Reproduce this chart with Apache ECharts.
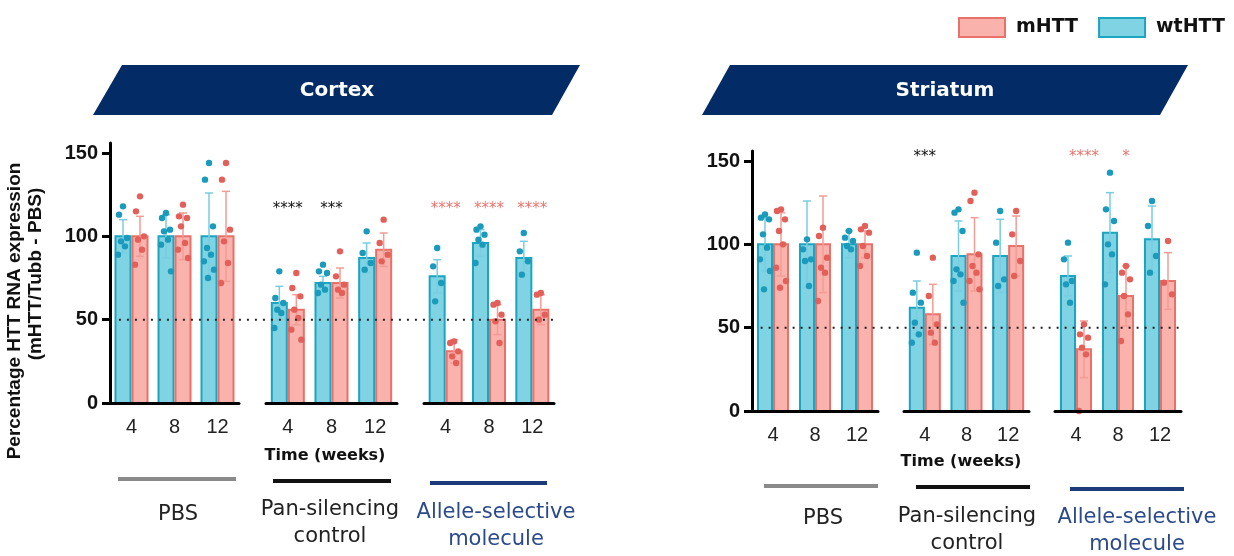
<!DOCTYPE html>
<html><head><meta charset="utf-8">
<script src="https://cdn.jsdelivr.net/npm/echarts@6/dist/echarts.min.js"></script>
<style>html,body{margin:0;padding:0;background:#fff}#c{width:1234px;height:556px}</style>
</head><body><div id="c"></div>
<script>
// ---------------- DATA ----------------
const weeks = ['4', '8', '12'];
const treatments = ['PBS', 'Pan-silencing\ncontrol', 'Allele-selective\nmolecule'];
const threshold = 50;

// [treatment][week]
const cortexWtMean = [[100, 100, 100], [60, 72, 87], [76, 96, 87]];
const cortexWtSd   = [[10, 13, 26], [10, 4, 9], [10, 8, 10]];
const cortexMMean  = [[100, 100, 100], [56, 72, 92], [31, 50, 56]];
const cortexMSd    = [[12, 14, 27], [9, 9, 10], [7, 9, 9]];
const cortexWtDots = [
  [[118, 113, 99, 97, 94, 89], [114, 111, 104, 103, 98, 95, 79], [144, 134, 106, 93, 89, 85, 80, 75]],
  [[79, 63, 60, 56, 54, 45], [83, 79, 78, 71, 68, 66], [103, 90, 84, 80]],
  [[93, 82, 72, 61], [106, 104, 101, 98, 95, 84], [102, 91, 85, 77]]
];
const cortexMDots = [
  [[124, 115, 100, 98, 92, 83], [119, 112, 111, 106, 96, 92, 87], [144, 134, 104, 97, 84, 72]],
  [[78, 69, 64, 56, 51, 44, 38], [91, 76, 71, 68, 66], [110, 96, 89, 85]],
  [[37, 36, 31, 28, 24], [60, 59, 53, 49, 36], [66, 65, 53, 50]]
];
const cortexSigGroup = [1, 1, 2, 2, 2];
const cortexSigWeek  = [0, 1, 0, 1, 2];
const cortexSigText  = ['****', '***', '****', '****', '****'];
const cortexSigOver  = ['both', 'both', 'both', 'both', 'both'];

const striatumWtMean = [[100, 100, 100], [62, 93, 93], [81, 107, 103]];
const striatumWtSd   = [[16, 26, 8], [16, 21, 22], [12, 24, 20]];
const striatumMMean  = [[100, 100, 100], [58, 94, 99], [37, 69, 78]];
const striatumMSd    = [[19, 29, 8], [18, 22, 18], [17, 18, 17]];
const striatumWtDots = [
  [[118, 116, 115, 106, 98, 91, 84, 73], [103, 97, 91, 90, 75], [108, 104, 102, 99, 97]],
  [[95, 71, 65, 53, 46, 41], [121, 119, 108, 85, 82, 78, 65], [120, 101, 79, 75]],
  [[101, 91, 78, 76, 65], [143, 121, 114, 100, 94, 76], [126, 111, 93, 83]]
];
const striatumMDots = [
  [[121, 120, 115, 108, 100, 86, 78, 74], [110, 105, 92, 86, 83, 66], [111, 109, 107, 99, 93, 87]],
  [[92, 69, 52, 47, 41], [131, 126, 94, 87, 83, 78, 73], [120, 106, 90, 81]],
  [[52, 46, 44, 38, 34, 0], [87, 83, 79, 69, 58, 42], [102, 77, 70]]
];
const striatumSigGroup = [1, 2, 2];
const striatumSigWeek  = [0, 0, 1];
const striatumSigText  = ['***', '****', '*'];
const striatumSigOver  = ['both', 'mHTT', 'mHTT'];

// ---------------- STYLE / LAYOUT ----------------
const WT_FILL = '#80d3e3', WT_EDGE = '#1ca5c0', WT_ERR = '#79cde0', WT_DOT = '#1b9abb';
const M_FILL = '#f9b2ac', M_EDGE = '#e8716a', M_ERR = '#f29c95', M_DOT = '#e3605a';
const NAVY = '#032b66';
const JITTER = [0, -4, 4, -2, 2, -5, 5, -1, 1];
const SIG_COLORS = ['#111', '#111', '#e8756d'];

const panels = [
  { title: 'Cortex', wtMean: cortexWtMean, wtSd: cortexWtSd, mMean: cortexMMean, mSd: cortexMSd,
    wtDots: cortexWtDots, mDots: cortexMDots,
    sig: { g: cortexSigGroup, w: cortexSigWeek, t: cortexSigText, o: cortexSigOver },
    groupLeft: [110, 266, 424], groupWidth: [129, 131, 130], top: 143, height: 260, barW: 17, sigLevel: 119 },
  { title: 'Striatum', wtMean: striatumWtMean, wtSd: striatumWtSd, mMean: striatumMMean, mSd: striatumMSd,
    wtDots: striatumWtDots, mDots: striatumMDots,
    sig: { g: striatumSigGroup, w: striatumSigWeek, t: striatumSigText, o: striatumSigOver },
    groupLeft: [752, 904, 1055], groupWidth: [126, 125, 126], top: 151, height: 260, barW: 16, sigLevel: 155 }
];

const grid = [], xAxis = [], yAxis = [], series = [];
const YMAX = 156;

function errRenderer(side, barW, color) {
  return function (params, api) {
    const i = api.value(0), m = api.value(1), s = api.value(2);
    const hi = api.coord([i, m + s]), lo = api.coord([i, Math.max(0, m - s)]);
    const cx = hi[0] + side * barW / 2, cap = 4;
    const st = { stroke: color, lineWidth: 1.5 };
    return { type: 'group', children: [
      { type: 'line', shape: { x1: cx, y1: hi[1], x2: cx, y2: lo[1] }, style: st },
      { type: 'line', shape: { x1: cx - cap, y1: hi[1], x2: cx + cap, y2: hi[1] }, style: st },
      { type: 'line', shape: { x1: cx - cap, y1: lo[1], x2: cx + cap, y2: lo[1] }, style: st }
    ] };
  };
}
function dotRenderer(side, barW, color) {
  return function (params, api) {
    const i = api.value(0), v = api.value(1), k = api.value(2);
    const p = api.coord([i, v]);
    return { type: 'circle', shape: { cx: p[0] + side * barW / 2 + JITTER[k % JITTER.length], cy: p[1], r: 3.2 },
      style: { fill: color } };
  };
}
function barRenderer(side, barW, fill, edge) {
  return function (params, api) {
    const i = api.value(0), v = api.value(1);
    const top = api.coord([i, v]), base = api.coord([i, 0]);
    const x0 = side < 0 ? top[0] - barW : top[0];
    return { type: 'rect', shape: { x: x0 + 1, y: top[1], width: barW - 2, height: base[1] - top[1] },
      style: { fill: fill, stroke: edge, lineWidth: 2 } };
  };
}

panels.forEach((P, pi) => {
  for (let g = 0; g < 3; g++) {
    const gi = grid.length;
    grid.push({ left: P.groupLeft[g], top: P.top, width: P.groupWidth[g], height: P.height, containLabel: false });
    xAxis.push({ type: 'category', gridIndex: gi, data: weeks, z: 10,
      axisLine: { lineStyle: { color: '#000', width: 3 } },
      axisTick: { alignWithLabel: true, length: 8, lineStyle: { color: '#000', width: 3 } },
      axisLabel: { fontSize: 20, color: '#222', margin: 14, fontFamily: 'Liberation Sans, Arial, sans-serif' } });
    const showY = g === 0;
    yAxis.push({ type: 'value', gridIndex: gi, min: 0, max: YMAX, show: showY, z: 10,
      splitLine: { show: false },
      axisLine: { show: true, lineStyle: { color: '#000', width: 3 } },
      axisTick: { show: true, length: 8, customValues: [0, 50, 100, 150], lineStyle: { color: '#000', width: 3 } },
      axisLabel: { customValues: [0, 50, 100, 150], fontSize: 20, fontWeight: 'bold', color: '#111', margin: 12,
        fontFamily: 'Liberation Sans, Arial, sans-serif' } });
    series.push({ type: 'custom', name: 'wtHTT', xAxisIndex: gi, yAxisIndex: gi, z: 2,
      itemStyle: { color: WT_FILL, borderColor: WT_EDGE, borderWidth: 2 },
      renderItem: barRenderer(-1, P.barW, WT_FILL, WT_EDGE),
      data: weeks.map((w, i) => [i, P.wtMean[g][i]]) });
    series.push({ type: 'custom', name: 'mHTT', xAxisIndex: gi, yAxisIndex: gi, z: 2,
      itemStyle: { color: M_FILL, borderColor: M_EDGE, borderWidth: 2 },
      renderItem: barRenderer(1, P.barW, M_FILL, M_EDGE),
      data: weeks.map((w, i) => [i, P.mMean[g][i]]) });
    series.push({ type: 'custom', xAxisIndex: gi, yAxisIndex: gi, z: 3, silent: true,
      renderItem: errRenderer(-1, P.barW, WT_ERR),
      data: weeks.map((w, i) => [i, P.wtMean[g][i], P.wtSd[g][i]]) });
    series.push({ type: 'custom', xAxisIndex: gi, yAxisIndex: gi, z: 3, silent: true,
      renderItem: errRenderer(1, P.barW, M_ERR),
      data: weeks.map((w, i) => [i, P.mMean[g][i], P.mSd[g][i]]) });
    const wd = [], md = [];
    weeks.forEach((w, i) => {
      P.wtDots[g][i].forEach((v, k) => wd.push([i, v, k]));
      P.mDots[g][i].forEach((v, k) => md.push([i, v, k]));
    });
    series.push({ type: 'custom', xAxisIndex: gi, yAxisIndex: gi, z: 4, silent: true,
      renderItem: dotRenderer(-1, P.barW, WT_DOT), data: wd });
    series.push({ type: 'custom', xAxisIndex: gi, yAxisIndex: gi, z: 4, silent: true,
      renderItem: dotRenderer(1, P.barW, M_DOT), data: md });
    const sIdx = [];
    P.sig.g.forEach((gg, k) => { if (gg === g) sIdx.push(k); });
    if (sIdx.length) {
      series.push({ type: 'custom', xAxisIndex: gi, yAxisIndex: gi, z: 5, silent: true,
        data: sIdx.map(k => [P.sig.w[k], P.sigLevel, k]),
        renderItem: function (params, api) {
          const k = api.value(2);
          const p = api.coord([api.value(0), api.value(1)]);
          const dx = P.sig.o[k] === 'mHTT' ? P.barW / 2 : 0;
          return { type: 'text', style: { text: P.sig.t[k], x: p[0] + dx, y: p[1] + 4,
            fill: SIG_COLORS[P.sig.g[k]], font: '15px "DejaVu Sans"', align: 'center', verticalAlign: 'middle',
            textAlign: 'center', textVerticalAlign: 'middle' } };
        } });
    }
  }
  const fi = grid.length;
  const left = P.groupLeft[0], right = P.groupLeft[2] + P.groupWidth[2] + 2;
  grid.push({ left: left, top: P.top, width: right - left, height: P.height, containLabel: false });
  xAxis.push({ type: 'value', gridIndex: fi, min: 0, max: 1, show: false });
  yAxis.push({ type: 'value', gridIndex: fi, min: 0, max: YMAX, show: false });
  series.push({ type: 'line', xAxisIndex: fi, yAxisIndex: fi, z: 6, silent: true, showSymbol: false,
    data: [[0.02, threshold], [1, threshold]], lineStyle: { color: '#222', width: 2, type: [2, 6] } });
});

// ---------------- GRAPHICS (banners, labels) ----------------
const TXT = (t, x, y, font, fill, rot) => ({ type: 'text', x: x, y: y, rotation: rot || 0, silent: true,
  style: { text: t, x: 0, y: 0, font: font, fill: fill, align: 'center', verticalAlign: 'middle',
    textAlign: 'center', textVerticalAlign: 'middle', lineHeight: 27 } });
const LINE = (x1, x2, y, c) => ({ type: 'line', silent: true, shape: { x1: x1, y1: y, x2: x2, y2: y },
  style: { stroke: c, lineWidth: 4 } });
const groupColors = ['#8a8a8a', '#111111', '#1d3b7a'];
const textColors = ['#222', '#222', '#2b4a8b'];

const graphics = [
  { type: 'polygon', silent: true, shape: { points: [[122, 65], [580, 65], [552, 115], [93, 115]] }, style: { fill: NAVY } },
  { type: 'polygon', silent: true, shape: { points: [[730, 65], [1188, 65], [1160, 115], [702, 115]] }, style: { fill: NAVY } },
  TXT(panels[0].title, 337, 91, 'bold 20px "DejaVu Sans"', '#fff'),
  TXT(panels[1].title, 945, 91, 'bold 20px "DejaVu Sans"', '#fff'),
  TXT('Percentage HTT RNA expression', 15, 311, 'bold 19px "Liberation Sans"', '#111', Math.PI / 2),
  TXT('(mHTT/Tubb - PBS)', 36, 274, 'bold 19px "Liberation Sans"', '#111', Math.PI / 2),
  TXT('Time (weeks)', 325, 456, 'bold 16px "DejaVu Sans"', '#111'),
  TXT('Time (weeks)', 961, 462, 'bold 16px "DejaVu Sans"', '#111')
];
const cortexBottom = { lines: [[118, 236, 479], [273, 391, 481], [430, 547, 483]], text: [[178, 515], [330, 523], [496, 526]] };
const striatumBottom = { lines: [[764, 878, 486], [916, 1030, 487], [1070, 1184, 489]], text: [[823, 519], [967, 530], [1137, 531]] };
[cortexBottom, striatumBottom].forEach(B => {
  treatments.forEach((t, i) => {
    graphics.push(LINE(B.lines[i][0], B.lines[i][1], B.lines[i][2], groupColors[i]));
    graphics.push(TXT(t, B.text[i][0], B.text[i][1], '21px "DejaVu Sans"', textColors[i]));
  });
});

const chart = echarts.init(document.getElementById('c'), null, { renderer: 'canvas' });
chart.setOption({
  animation: false,
  backgroundColor: '#fff',
  legend: { data: [
      { name: 'mHTT', itemStyle: { color: M_FILL, borderColor: M_EDGE, borderWidth: 2 } },
      { name: 'wtHTT', itemStyle: { color: WT_FILL, borderColor: WT_EDGE, borderWidth: 2 } }
    ], left: 953, top: 12, itemWidth: 46, itemHeight: 19, itemGap: 20,
    icon: 'rect', selectedMode: false,
    textStyle: { fontSize: 19, fontWeight: 'bold', fontFamily: 'DejaVu Sans', color: '#111', padding: [0, 0, 0, 6] } },
  grid: grid, xAxis: xAxis, yAxis: yAxis, series: series,
  graphic: { elements: graphics }
});
</script></body></html>
